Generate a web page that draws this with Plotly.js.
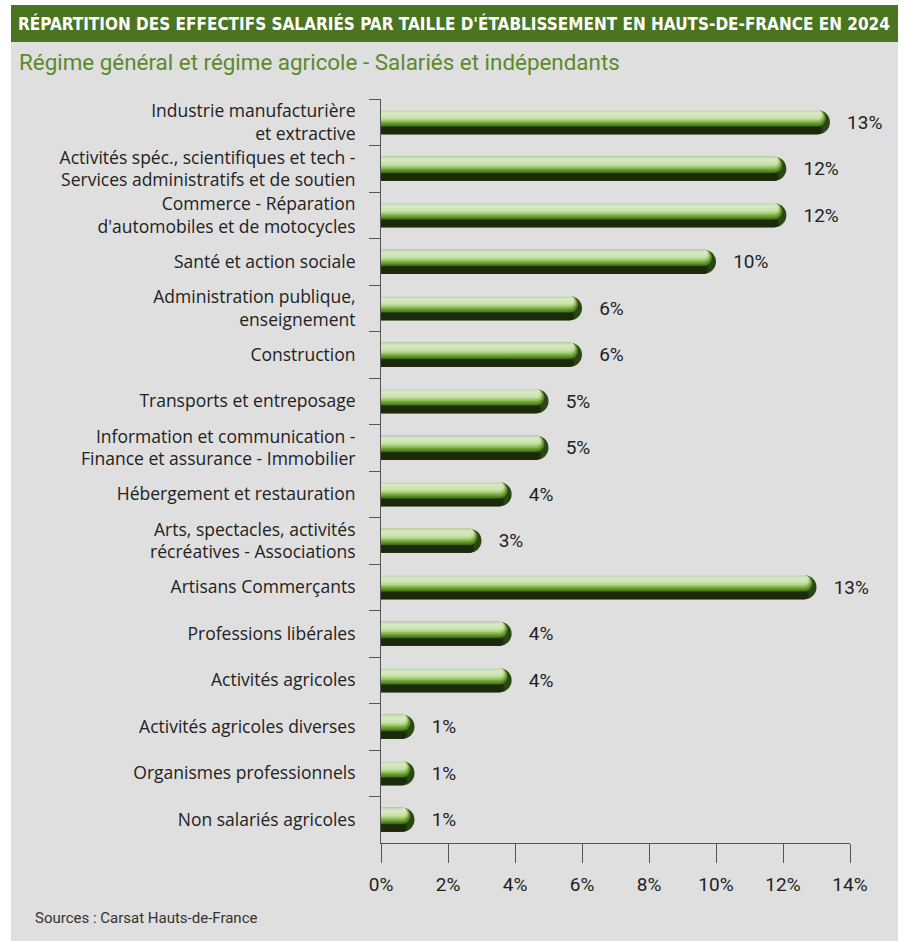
<!DOCTYPE html>
<html>
<head>
<meta charset="utf-8">
<script src="https://cdn.plot.ly/plotly-3.0.1.min.js"></script>
<style>html,body{margin:0;padding:0;background:#fff;}#chart{width:904px;height:941px;}</style>
</head>
<body>
<div id="chart"></div>
<script>
// ---- data ----
const categories = [
  "Industrie manufacturière<br>et extractive",
  "Activités spéc., scientifiques et tech -<br>Services administratifs et de soutien",
  "Commerce - Réparation<br>d'automobiles et de motocycles",
  "Santé et action sociale",
  "Administration publique,<br>enseignement",
  "Construction",
  "Transports et entreposage",
  "Information et communication -<br>Finance et assurance - Immobilier",
  "Hébergement et restauration",
  "Arts, spectacles, activités<br>récréatives - Associations",
  "Artisans Commerçants",
  "Professions libérales",
  "Activités agricoles",
  "Activités agricoles diverses",
  "Organismes professionnels",
  "Non salariés agricoles"
];
const values = [13.4, 12.1, 12.1, 10.0, 6.0, 6.0, 5.0, 5.0, 3.9, 3.0, 13.0, 3.9, 3.9, 1.0, 1.0, 1.0];
const valueLabels = ["13%", "12%", "12%", "10%", "6%", "6%", "5%", "5%", "4%", "3%", "13%", "4%", "4%", "1%", "1%", "1%"];
const xTickVals = [0, 2, 4, 6, 8, 10, 12, 14];
const xTickText = ["0%", "2%", "4%", "6%", "8%", "10%", "12%", "14%"];

// ---- geometry helpers (pixel -> paper) ----
const W = 904, H = 941;
const M = {l: 381, r: 54, t: 99, b: 98};
const X_MAX = 14;
const PW = W - M.l - M.r, PH = H - M.t - M.b;
const px = X => (X - M.l) / PW;
const py = Y => (H - M.b - Y) / PH;
const catPx = PH / categories.length;
const u = p => p / catPx;          // pixels -> category units
const xu = p => p * X_MAX / PW;    // pixels -> value units

const FONT = "Roboto, 'Open Sans', sans-serif";
const LFONT = "'Open Sans', Roboto, sans-serif";
const barT = 24, R = barT / 2;
// tube shading: layers aligned to the top edge (top:true) or bottom edge of the bar
const layers = [
  {h: 24, top: true,  color: "#2c4812"},
  {h: 10, top: false, color: "#22380e"},
  {h: 7,  top: false, color: "#1a2a0a"},
  {h: 16, top: true,  color: "#4e8022"},
  {h: 14, top: true,  color: "#6c9f34"},
  {h: 12, top: true,  color: "#92c05c"},
  {h: 10, top: true,  color: "#b8d690"},
  {h: 8,  top: true,  color: "#cde3b0"},
  {h: 5,  top: true,  color: "#d6e8c0"},
  {h: 2,  top: true,  color: "#cbd8c0"}
];
const nb = "\u00a0\u00a0\u00a0";
const traces = layers.map((L, i) => {
  const rho = L.h / 2;
  const shrink = xu(R - rho); // keep each layer's rounded end nested inside the main cap
  return {
    type: "bar",
    orientation: "h",
    y: categories,
    x: values.map(v => Math.max(0, v - shrink)),
    width: u(L.h),
    offset: L.top ? -u(barT) / 2 : u(barT) / 2 - u(L.h),
    marker: {color: L.color, cornerradius: rho, line: {width: 0}},
    text: i === 0 ? valueLabels.map(t => nb + t) : undefined,
    textposition: i === 0 ? "outside" : "none",
    textfont: {family: FONT, size: 19, color: "#222"},
    cliponaxis: false,
    hoverinfo: "skip",
    showlegend: false
  };
});

const layout = {
  width: W, height: H,
  margin: M,
  paper_bgcolor: "#dfdfdf",
  plot_bgcolor: "rgba(0,0,0,0)",
  barmode: "overlay",
  font: {family: FONT, color: "#222"},
  title: {
    text: "<b>RÉPARTITION DES EFFECTIFS SALARIÉS PAR TAILLE D'ÉTABLISSEMENT EN HAUTS-DE-FRANCE EN 2024</b>",
    font: {family: "'DejaVu Sans Condensed', 'DejaVu Sans', sans-serif", size: 17, color: "#ffffff"},
    xref: "container", yref: "container",
    x: 18 / W, xanchor: "left",
    y: 1 - 24 / H, yanchor: "middle"
  },
  xaxis: {
    range: [0, X_MAX],
    tickvals: xTickVals, ticktext: xTickText,
    ticks: "outside", ticklen: 19, tickcolor: "#555", tickwidth: 1,
    showline: true, linecolor: "#555", linewidth: 1,
    showgrid: false, zeroline: false,
    tickfont: {family: FONT, size: 19, color: "#222"},
    ticklabelstandoff: 5,
    fixedrange: true
  },
  yaxis: {
    type: "category",
    autorange: "reversed",
    tickson: "boundaries",
    ticks: "outside", ticklen: 11, tickcolor: "#555", tickwidth: 1,
    showline: true, linecolor: "#555", linewidth: 1,
    showgrid: false, zeroline: false,
    tickfont: {family: LFONT, size: 17.5, color: "#222"},
    ticklabelstandoff: 21,
    fixedrange: true
  },
  shapes: [
    {type: "rect", xref: "paper", yref: "paper", x0: px(11), x1: px(898), y0: py(42), y1: py(5),
     fillcolor: "#4a7420", line: {width: 0}, layer: "below"},
    {type: "rect", xref: "paper", yref: "paper", x0: px(0), x1: px(11), y0: py(H), y1: py(0),
     fillcolor: "#ffffff", line: {width: 0}, layer: "below"},
    {type: "rect", xref: "paper", yref: "paper", x0: px(898), x1: px(W), y0: py(H), y1: py(0),
     fillcolor: "#ffffff", line: {width: 0}, layer: "below"},
    {type: "rect", xref: "paper", yref: "paper", x0: px(0), x1: px(W), y0: py(5), y1: py(0),
     fillcolor: "#ffffff", line: {width: 0}, layer: "below"}
  ],
  annotations: [
    {text: "Régime général et régime agricole - Salariés et indépendants",
     xref: "paper", yref: "paper", x: px(17), y: py(62), xanchor: "left", yanchor: "middle",
     showarrow: false, font: {family: FONT, size: 22.4, color: "#5a8a2c"}},
    {text: "Sources : Carsat Hauts-de-France",
     xref: "paper", yref: "paper", x: px(33), y: py(918), xanchor: "left", yanchor: "middle",
     showarrow: false, font: {family: FONT, size: 15, color: "#333"}}
  ]
};

Plotly.newPlot("chart", traces, layout, {displayModeBar: false, staticPlot: true});
</script>
</body>
</html>
